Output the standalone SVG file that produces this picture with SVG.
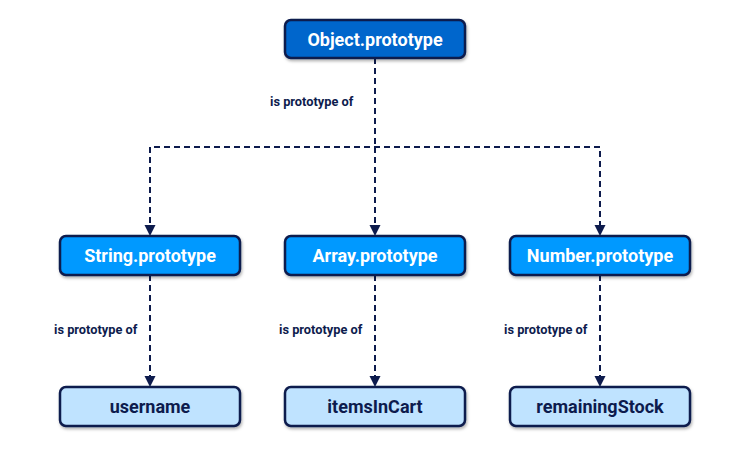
<svg xmlns="http://www.w3.org/2000/svg" width="731" height="451" viewBox="0 0 731 451">
<defs>
<filter id="sh" x="-10%" y="-20%" width="120%" height="150%"><feDropShadow dx="1" dy="2" stdDeviation="1.5" flood-color="#000" flood-opacity="0.3"/></filter>
</defs>
<style>
.box{stroke:#0d1b4d;stroke-width:2.5;filter:url(#sh)}
.top{fill:#0066cc}
.mid{fill:#0099ff}
.bot{fill:#bfe3ff}
.t{font-family:Roboto,"Liberation Sans",sans-serif;font-weight:bold;font-size:18px;text-anchor:middle}
.tw{fill:#ffffff}
.tb{fill:#0d1b4d}
.lbl{font-family:Roboto,"Liberation Sans",sans-serif;font-weight:bold;font-size:12.8px;fill:#0d1b4d}
.c{fill:none;stroke:#0d1b4d;stroke-width:2;stroke-dasharray:6 4}
.ah{fill:#0d1b4d}
</style>
<rect width="731" height="451" fill="#ffffff"/>
<g id="connectors">
<path class="c" d="M375,58 V147"/>
<path class="c" d="M150,233 V147 H600 V233"/>
<path class="c" d="M375,147 V233"/>
<path class="c" d="M150,275 V384"/>
<path class="c" d="M375,275 V384"/>
<path class="c" d="M600,275 V384"/>
<path class="ah" d="M144.5,225 L155.5,225 L150,236 Z"/>
<path class="ah" d="M369.5,225 L380.5,225 L375,236 Z"/>
<path class="ah" d="M594.5,225 L605.5,225 L600,236 Z"/>
<path class="ah" d="M144.5,376 L155.5,376 L150,387 Z"/>
<path class="ah" d="M369.5,376 L380.5,376 L375,387 Z"/>
<path class="ah" d="M594.5,376 L605.5,376 L600,387 Z"/>
<text class="lbl" x="270" y="106">is prototype of</text>
<text class="lbl" x="54" y="334">is prototype of</text>
<text class="lbl" x="279" y="334">is prototype of</text>
<text class="lbl" x="504" y="334">is prototype of</text>
</g>
<g id="object-prototype"><rect class="box top" x="285" y="20" width="180" height="38" rx="6"/><text class="t tw" x="375" y="46">Object.prototype</text></g>
<g id="string-prototype"><rect class="box mid" x="60" y="236" width="180" height="39" rx="6"/><text class="t tw" x="150" y="262">String.prototype</text></g>
<g id="array-prototype"><rect class="box mid" x="285" y="236" width="180" height="39" rx="6"/><text class="t tw" x="375" y="262">Array.prototype</text></g>
<g id="number-prototype"><rect class="box mid" x="510" y="236" width="180" height="39" rx="6"/><text class="t tw" x="600" y="262">Number.prototype</text></g>
<g id="username"><rect class="box bot" x="60" y="387" width="180" height="39" rx="6"/><text class="t tb" x="150" y="413">username</text></g>
<g id="itemsInCart"><rect class="box bot" x="285" y="387" width="180" height="39" rx="6"/><text class="t tb" x="375" y="413">itemsInCart</text></g>
<g id="remainingStock"><rect class="box bot" x="510" y="387" width="180" height="39" rx="6"/><text class="t tb" x="600" y="413">remainingStock</text></g>
</svg>
